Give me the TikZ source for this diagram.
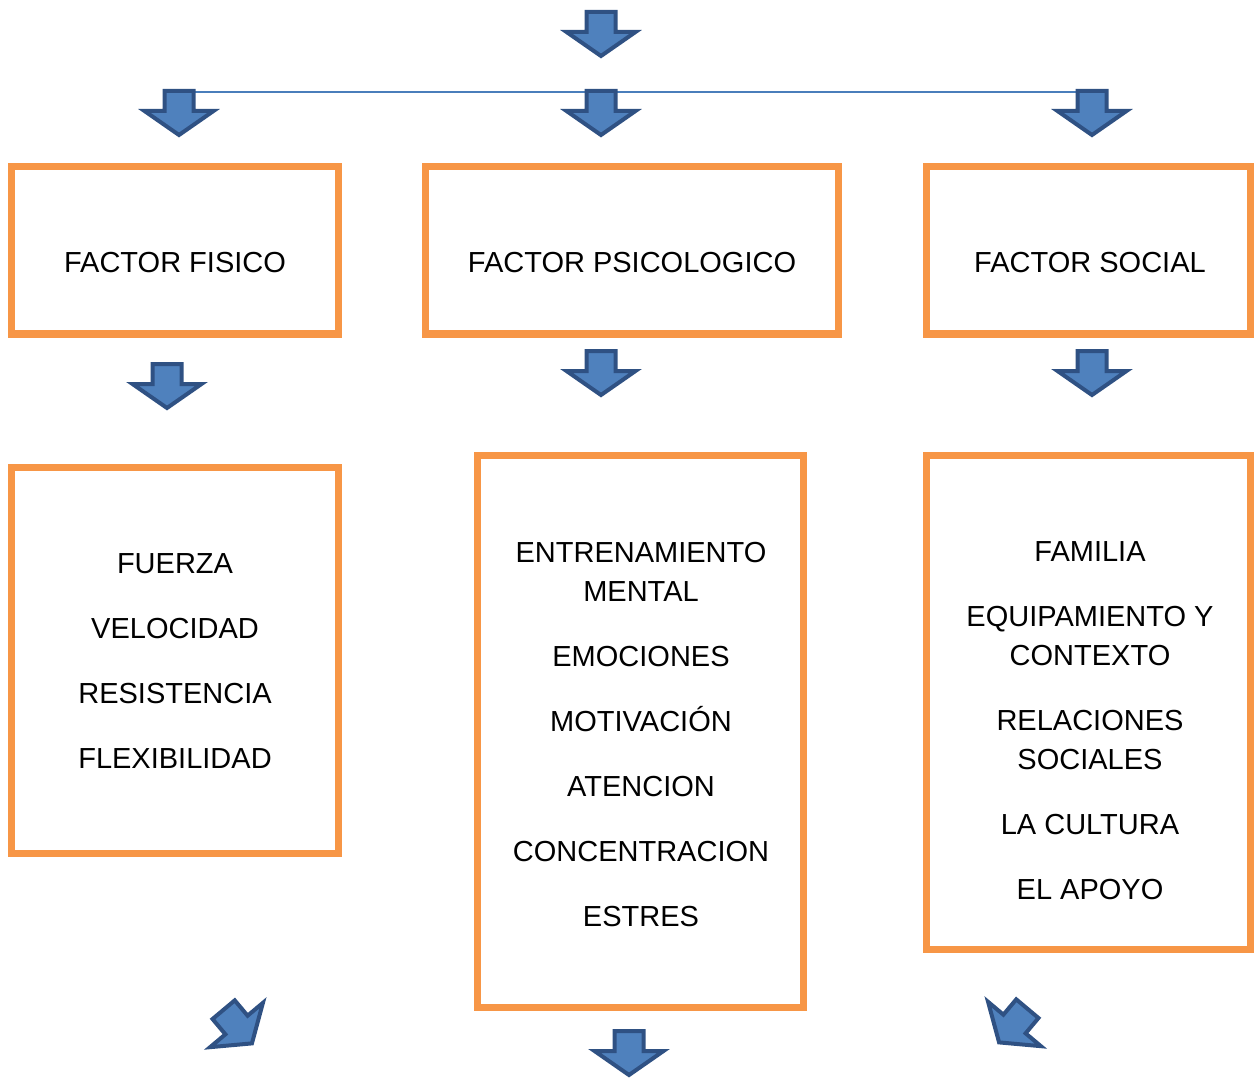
\documentclass[tikz,border=0pt]{standalone}
\usepackage{fontspec}
\setmainfont{Liberation Sans}
\definecolor{borange}{HTML}{F79646}
\definecolor{afill}{HTML}{4F81BD}
\definecolor{aline}{HTML}{2F5183}
\definecolor{hblue}{HTML}{4A7EBB}
\begin{document}
\begin{tikzpicture}[x=1pt,y=-1pt,
  boxstyle/.style={draw=borange,line width=7pt,rectangle,inner sep=0pt},
  txt/.style={inner sep=0pt,align=center,font=\fontsize{29}{39}\selectfont},
  arrowline/.style={fill=afill,draw=aline,line width=4pt,line join=miter},
  darr/.pic={\draw[arrowline] (-14.5,-20) -- (14.5,-20) -- (14.5,0) -- (34.5,0) -- (0,24) -- (-34.5,0) -- (-14.5,0) -- cycle;},
  hline/.style={draw=hblue,line width=2pt}]
\useasboundingbox (0,0) rectangle (1254,1078);

% boxes
\node[boxstyle,minimum width=326.5pt,minimum height=167.5pt] (b1) at (174.75,250.25) {};
\node[boxstyle,minimum width=413pt,minimum height=167.5pt] (b2) at (632,250.25) {};
\node[boxstyle,minimum width=324pt,minimum height=167.5pt] (b3) at (1088,250.25) {};
\node[boxstyle,minimum width=326.5pt,minimum height=386pt] (b4) at (174.75,660) {};
\node[boxstyle,minimum width=326pt,minimum height=552pt] (b5) at (640.5,731.5) {};
\node[boxstyle,minimum width=324pt,minimum height=493.5pt] (b6) at (1088,702.25) {};

% texts
\node[txt] (t1) at (175,263) {FACTOR FISICO};
\node[txt] (t2) at (632,263) {FACTOR PSICOLOGICO};
\node[txt] (t3) at (1090,263) {FACTOR SOCIAL};
\node[txt] (t4) at (175,661.5) {FUERZA\\[26pt]VELOCIDAD\\[26pt]RESISTENCIA\\[26pt]FLEXIBILIDAD};
\node[txt] (t5) at (641,734.5) {ENTRENAMIENTO\\MENTAL\\[26pt]EMOCIONES\\[26pt]MOTIVACIÓN\\[26pt]ATENCION\\[26pt]CONCENTRACION\\[26pt]ESTRES};
\node[txt] (t6) at (1090,721) {FAMILIA\\[26pt]EQUIPAMIENTO Y\\CONTEXTO\\[26pt]RELACIONES\\SOCIALES\\[26pt]LA CULTURA\\[26pt]EL APOYO};

% connector line
\coordinate (c1) at (179,92);
\coordinate (c3) at (1092,92);
\draw[hline] (c1) -- (c3);

% arrows
\pic at (601,32) {darr};
\pic at (179,111) {darr};
\pic at (601,111) {darr};
\pic at (1092,111) {darr};
\pic at (167,384) {darr};
\pic at (601,371) {darr};
\pic at (1092,371) {darr};
\pic at (629,1051) {darr};
\pic[rotate=40] at (236.5,1025) {darr};
\pic[rotate=-40] at (1014.5,1024) {darr};
\end{tikzpicture}
\end{document}
